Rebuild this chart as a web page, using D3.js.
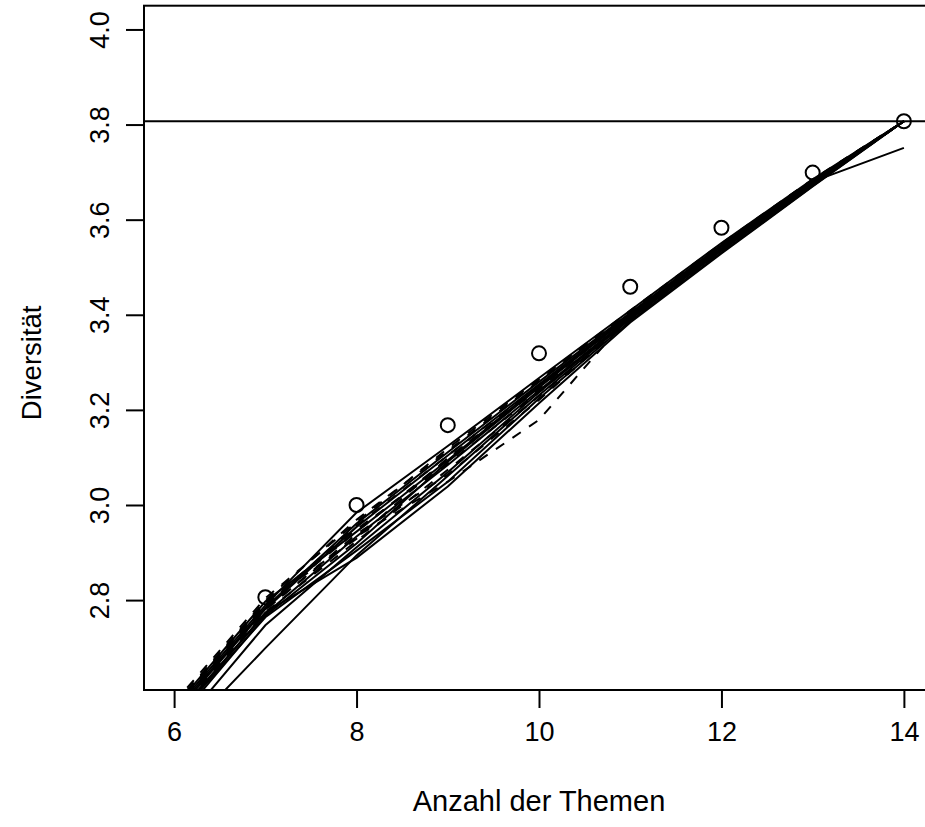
<!DOCTYPE html>
<html>
<head>
<meta charset="utf-8">
<script src="https://cdn.jsdelivr.net/npm/d3@7/dist/d3.min.js"></script>
<style>
  body { margin: 0; background: #fff; }
  text { font-family: "Liberation Sans", Arial, Helvetica, sans-serif; fill: #000; }
</style>
</head>
<body>
<div id="chart"></div>
<script>
// Anzahl der Themen (x values of every curve)
const themen = [6, 7, 8, 9, 10, 11, 12, 13, 14];

// observed diversity (circles)
const punkteX = [7, 8, 9, 10, 11, 12, 13, 14];
const punkteY = [2.807, 3.001, 3.169, 3.320, 3.460, 3.584, 3.700, 3.808];

// reference level (horizontal line)
const referenz = 3.808;

// simulated curves, solid
const solide = [
    [2.570, 2.790, 2.985, 3.125, 3.268, 3.410, 3.552, 3.686, 3.808],
    [2.560, 2.782, 2.955, 3.105, 3.255, 3.402, 3.545, 3.682, 3.808],
    [2.555, 2.772, 2.935, 3.085, 3.242, 3.396, 3.538, 3.677, 3.808],
    [2.550, 2.765, 2.905, 3.050, 3.225, 3.388, 3.532, 3.672, 3.808],
    [2.500, 2.700, 2.895, 3.062, 3.232, 3.392, 3.536, 3.675, 3.808],
    [2.540, 2.768, 2.920, 3.092, 3.248, 3.400, 3.545, 3.681, 3.752],
    [2.520, 2.748, 2.912, 3.070, 3.238, 3.394, 3.540, 3.678, 3.808],
    [2.565, 2.785, 2.962, 3.112, 3.260, 3.405, 3.548, 3.684, 3.808],
    [2.575, 2.798, 2.945, 3.095, 3.252, 3.398, 3.541, 3.679, 3.808],
    [2.548, 2.775, 2.890, 3.040, 3.215, 3.385, 3.530, 3.671, 3.808]
];

// simulated curves, dashed
const gestrichelt = [
    [2.580, 2.800, 2.970, 3.115, 3.262, 3.408, 3.550, 3.685, 3.808],
    [2.572, 2.792, 2.945, 3.098, 3.250, 3.400, 3.542, 3.679, 3.808],
    [2.562, 2.782, 2.935, 3.050, 3.180, 3.400, 3.540, 3.676, 3.808],
    [2.575, 2.795, 2.950, 3.088, 3.238, 3.396, 3.538, 3.677, 3.808],
    [2.568, 2.788, 2.958, 3.105, 3.252, 3.404, 3.546, 3.683, 3.808],
    [2.558, 2.776, 2.925, 3.075, 3.230, 3.390, 3.535, 3.674, 3.808],
    [2.585, 2.805, 2.965, 3.120, 3.265, 3.410, 3.551, 3.686, 3.808],
    [2.566, 2.780, 2.940, 3.065, 3.222, 3.392, 3.537, 3.676, 3.808],
    [2.578, 2.796, 2.930, 3.100, 3.245, 3.402, 3.544, 3.681, 3.808]
];

const xTicks = [6, 8, 10, 12, 14];
const yTicks = [2.8, 3.0, 3.2, 3.4, 3.6, 3.8, 4.0];

const width = 925, height = 827;
const plot = { left: 144, top: 5.7, right: 934, bottom: 690 };

const svg = d3.select('#chart').append('svg')
    .attr('width', width)
    .attr('height', height);

const x = d3.scaleLinear().domain([5.67, 14.33]).range([plot.left, plot.right]);
const y = d3.scaleLinear().domain([2.612, 4.051]).range([plot.bottom, plot.top]);

svg.append('defs').append('clipPath').attr('id', 'plotclip')
    .append('rect')
    .attr('x', plot.left).attr('y', plot.top)
    .attr('width', plot.right - plot.left).attr('height', plot.bottom - plot.top);

const g = svg.append('g').attr('clip-path', 'url(#plotclip)');

const line = d3.line().x((d, i) => x(themen[i])).y(d => y(d));

g.selectAll('path.solid')
    .data(solide)
    .enter().append('path')
    .attr('class', 'solid')
    .attr('d', line)
    .attr('fill', 'none')
    .attr('stroke', '#000')
    .attr('stroke-width', 2);

g.selectAll('path.dashed')
    .data(gestrichelt)
    .enter().append('path')
    .attr('class', 'dashed')
    .attr('d', line)
    .attr('fill', 'none')
    .attr('stroke', '#000')
    .attr('stroke-width', 2)
    .attr('stroke-dasharray', '10,10');

// horizontal reference line
g.append('line')
    .attr('x1', plot.left).attr('x2', plot.right)
    .attr('y1', y(referenz)).attr('y2', y(referenz))
    .attr('stroke', '#000').attr('stroke-width', 2);

// observed points
g.selectAll('circle')
    .data(punkteX)
    .enter().append('circle')
    .attr('cx', d => x(d))
    .attr('cy', (d, i) => y(punkteY[i]))
    .attr('r', 7)
    .attr('fill', 'none')
    .attr('stroke', '#000')
    .attr('stroke-width', 2);

// frame
svg.append('rect')
    .attr('x', plot.left).attr('y', plot.top)
    .attr('width', plot.right - plot.left).attr('height', plot.bottom - plot.top)
    .attr('fill', 'none').attr('stroke', '#000').attr('stroke-width', 2);

// axes, R style
const fs = 27;
const xAxis = d3.axisBottom(x).tickValues(xTicks).tickSize(18).tickPadding(14).tickFormat(d3.format('d'));
const xg = svg.append('g').attr('transform', `translate(0,${plot.bottom})`).call(xAxis);
xg.select('.domain').remove();
xg.selectAll('line').attr('stroke-width', 2);
xg.selectAll('text').style('font-size', fs + 'px').attr('font-family', null);

const yAxis = d3.axisLeft(y).tickValues(yTicks).tickSize(18).tickFormat(d3.format('.1f'));
const yg = svg.append('g').attr('transform', `translate(${plot.left},0)`).call(yAxis);
yg.select('.domain').remove();
yg.selectAll('line').attr('stroke-width', 2);
yg.selectAll('text')
    .attr('x', null).attr('dy', null)
    .attr('text-anchor', 'middle')
    .attr('transform', d => `translate(${-35},${y(d)}) rotate(-90)`)
    .style('font-size', fs + 'px')
    .attr('font-family', null);
yg.selectAll('.tick').attr('transform', null);
yg.selectAll('.tick line').attr('y1', d => y(d)).attr('y2', d => y(d));

// axis titles
svg.append('text')
    .attr('x', x(10))
    .attr('y', 811)
    .attr('text-anchor', 'middle')
    .style('font-size', '29px')
    .text('Anzahl der Themen');

svg.append('text')
    .attr('transform', `translate(41,${y(3.3)}) rotate(-90)`)
    .attr('text-anchor', 'middle')
    .style('font-size', '27.5px')
    .text('Diversität');
</script>
</body>
</html>
